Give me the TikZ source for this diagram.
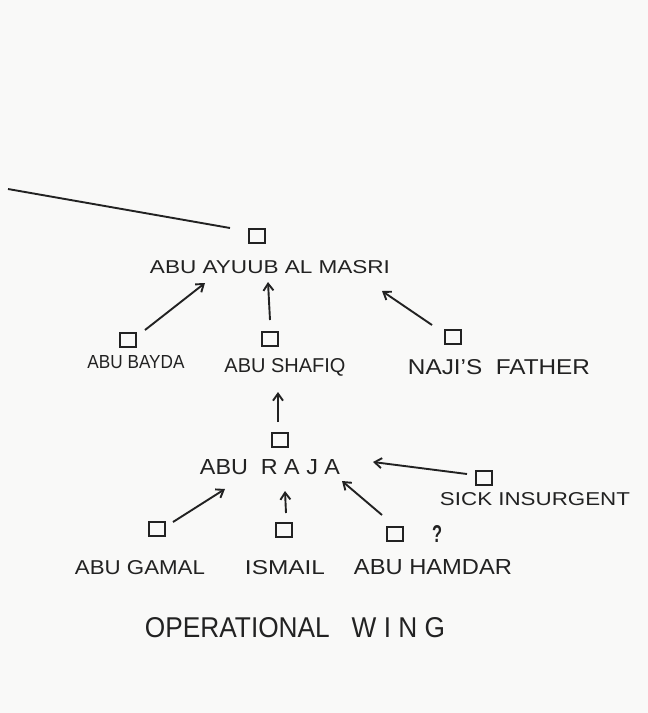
\documentclass[tikz,border=0pt]{standalone}
\usepackage{fontspec}
\setmainfont{Liberation Sans}
\usepackage{graphicx}
\usetikzlibrary{arrows.meta}
\definecolor{pencil}{HTML}{222222}
\definecolor{paper}{HTML}{F9F9F8}
\newcommand{\lbl}[3]{\resizebox{#1pt}{#2pt}{#3}}
\tikzset{
  box/.style={draw=pencil, line width=1.8pt, minimum width=16pt, minimum height=14pt, inner sep=0pt},
  txt/.style={text=pencil, inner sep=0pt, anchor=center},
  arr/.style={draw=pencil, line width=1.9pt, -{Straight Barb[length=7pt,width=10pt,line width=1.9pt]}},
  ln/.style={draw=pencil, line width=1.9pt}
}
\begin{document}
\begin{tikzpicture}[x=1pt,y=-1pt]
\fill[paper] (0,0) rectangle (648,713);
\useasboundingbox (0,0) rectangle (648,713);

% squares
\node[box] (sqAyuub) at (257,236) {};
\node[box] (sqBayda) at (128,340) {};
\node[box] (sqShafiq) at (270,339) {};
\node[box] (sqNaji) at (453,337) {};
\node[box] (sqRaja) at (280,440) {};
\node[box] (sqSick) at (484,478) {};
\node[box] (sqGamal) at (157,529) {};
\node[box] (sqIsmail) at (284,530) {};
\node[box] (sqHamdar) at (395,534) {};

% labels
\node[txt] (lAyuub) at (270,267) {\lbl{240}{13}{ABU AYUUB AL MASRI}};
\node[txt] (lBayda) at (136,362) {\lbl{97}{13}{ABU BAYDA}};
\node[txt] (lShafiq) at (285,367) {\lbl{121}{14}{ABU SHAFIQ}};
\node[txt] (lNaji) at (499,367) {\lbl{182}{15}{NAJI'S\ \ FATHER}};
\node[txt] (lRaja) at (270,467) {\lbl{140}{15}{ABU\ \ R A J A}};
\node[txt] (lSick) at (535,499) {\lbl{190}{13}{SICK INSURGENT}};
\node[txt] (lGamal) at (140,568) {\lbl{130}{14}{ABU GAMAL}};
\node[txt] (lIsmail) at (285,568) {\lbl{80}{14}{ISMAIL}};
\node[txt] (lHamdar) at (433,567) {\lbl{158}{15}{ABU HAMDAR}};
\node[txt] (lWing) at (295,628) {\lbl{300}{20}{OPERATIONAL\ \ \ W I N G}};
\node[txt] (qmark) at (437,534) {\lbl{10}{17}{\bfseries ?}};

% arrow tips
\coordinate (tBayda) at (205,283);
\coordinate (tShafiq) at (268,282);
\coordinate (tNaji) at (382,291);
\coordinate (tRaja) at (278,392);
\coordinate (tSick) at (373,462);
\coordinate (tGamal) at (225,489);
\coordinate (tIsmail) at (285,491);
\coordinate (tHamdar) at (342,481);
\coordinate (farLeft) at (8,189);

% connectors
\draw[ln] (farLeft) -- ([shift={(-27,-8)}]sqAyuub.center);
\draw[arr] ([shift={(17,-10)}]sqBayda.center) -- (tBayda);
\draw[arr] ([shift={(0,-19)}]sqShafiq.center) -- (tShafiq);
\draw[arr] ([shift={(-21,-12)}]sqNaji.center) -- (tNaji);
\draw[arr] ([shift={(-2,-18)}]sqRaja.center) -- (tRaja);
\draw[arr] ([shift={(-17,-4)}]sqSick.center) -- (tSick);
\draw[arr] ([shift={(16,-7)}]sqGamal.center) -- (tGamal);
\draw[arr] ([shift={(2,-17)}]sqIsmail.center) -- (tIsmail);
\draw[arr] ([shift={(-13,-19)}]sqHamdar.center) -- (tHamdar);
\end{tikzpicture}
\end{document}
